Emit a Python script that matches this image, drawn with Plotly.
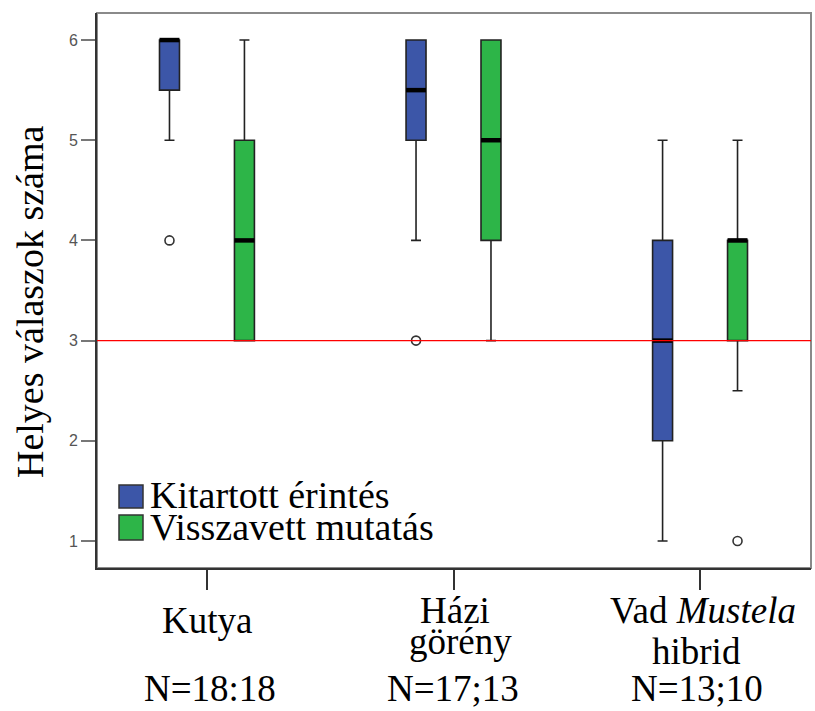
import plotly.graph_objects as go

# --- data -----------------------------------------------------------------
groups = ["Kutya", "Házi görény", "Vad Mustela hibrid"]
sample_sizes = ["N=18:18", "N=17;13", "N=13;10"]
series_names = ["Kitartott érintés", "Visszavett mutatás"]

# five-number summaries per group (Kutya, Házi görény, Vad Mustela hibrid)
touch_low = [5, 4, 1]
touch_q1 = [5.5, 5, 2]
touch_med = [6, 5.5, 3]
touch_q3 = [6, 6, 4]
touch_high = [6, 6, 5]
touch_outliers = [[4], [3], []]

point_low = [3, 3, 2.5]
point_q1 = [3, 4, 3]
point_med = [4, 5, 4]
point_q3 = [5, 6, 4]
point_high = [6, 6, 5]
point_outliers = [[], [], [1]]

chance_level = 3

# --- styling --------------------------------------------------------------
W, H = 815, 711
L, R, T, B = 97, 811, 13, 568          # plot area in pixels
BLUE = "#3C56A8"
GREEN = "#2DB548"
SERIF = "Liberation Serif, Times New Roman, serif"
SANS = "Liberation Sans, Arial, sans-serif"

OFFSET = 0.152
BOX_W = 0.081
X_RANGE = [-0.446, 2.450]
Y_RANGE = [0.73, 6.27]


def px_x(p):
    return (p - L) / (R - L)


def px_y(p):
    return (B - p) / (B - T)


fig = go.Figure()

series = [
    (series_names[0], BLUE, -OFFSET, touch_low, touch_q1, touch_med, touch_q3, touch_high, touch_outliers),
    (series_names[1], GREEN, OFFSET, point_low, point_q1, point_med, point_q3, point_high, point_outliers),
]

for name, color, off, lo, q1, med, q3, hi, outs in series:
    xs = [i + off for i in range(len(groups))]
    fig.add_trace(go.Box(
        name=name, x=xs, lowerfence=lo, q1=q1, median=med, q3=q3, upperfence=hi,
        width=BOX_W, whiskerwidth=0.5, fillcolor=color,
        line=dict(color="#222222", width=1.6),
        boxpoints=False, hoverinfo="skip", showlegend=False,
    ))
    # thick median bars
    mx, my = [], []
    for x, m in zip(xs, med):
        mx += [x - BOX_W / 2, x + BOX_W / 2, None]
        my += [m, m, None]
    fig.add_trace(go.Scatter(x=mx, y=my, mode="lines",
                             line=dict(color="black", width=4.5),
                             hoverinfo="skip", showlegend=False))
    # outliers
    ox, oy = [], []
    for x, vals in zip(xs, outs):
        for v in vals:
            ox.append(x)
            oy.append(v)
    fig.add_trace(go.Scatter(x=ox, y=oy, mode="markers",
                             marker=dict(symbol="circle-open", size=9,
                                         line=dict(color="#333333", width=1.6),
                                         color="#333333"),
                             hoverinfo="skip", showlegend=False))

shapes = [
    # frame
    dict(type="rect", xref="paper", yref="paper", x0=0, x1=1, y0=0, y1=1,
         line=dict(color="#8a8a8a", width=2), layer="below"),
    # chance level
    dict(type="line", xref="paper", yref="y", x0=0, x1=1,
         y0=chance_level, y1=chance_level, line=dict(color="red", width=1.2)),
]

# legend swatches
for (px0, py0, px1, py1), color in [((119, 485, 143, 508), BLUE), ((119, 515, 143, 540), GREEN)]:
    shapes.append(dict(type="rect", xref="paper", yref="paper",
                       x0=px_x(px0), x1=px_x(px1), y0=px_y(py1), y1=px_y(py0),
                       fillcolor=color, line=dict(color="#333333", width=1.5)))

annotations = []


def label(text, px, py, size=37, angle=0):
    annotations.append(dict(text=text, x=px_x(px), y=px_y(py), xref="paper", yref="paper",
                            xanchor="center", yanchor="middle", showarrow=False,
                            textangle=angle, font=dict(family=SERIF, size=size, color="black")))


def left_label(text, px, py, size=38):
    annotations.append(dict(text=text, x=px_x(px), y=px_y(py), xref="paper", yref="paper",
                            xanchor="left", yanchor="middle", showarrow=False,
                            font=dict(family=SERIF, size=size, color="black")))


left_label(series_names[0], 148, 495)
left_label(series_names[1], 148, 527)

# category labels
label(groups[0], 207, 620)
label("Házi", 455, 610)
label("görény", 460, 641)
label("Vad <i>Mustela</i>", 703, 610)
label("hibrid", 696, 651)
for sx, txt in zip([210, 453, 697], sample_sizes):
    label(txt, sx, 688)

# y-axis title
label("Helyes válaszok száma", 30, 302, size=38, angle=-90)

fig.update_layout(
    width=W, height=H,
    margin=dict(l=L, r=W - R, t=T, b=H - B, pad=0),
    paper_bgcolor="white", plot_bgcolor="white",
    shapes=shapes, annotations=annotations, showlegend=False,
    xaxis=dict(range=X_RANGE, tickvals=[0, 1, 2], showticklabels=False,
               ticks="outside", ticklen=20, tickwidth=2, tickcolor="#333333",
               showline=True, linecolor="#333333", linewidth=2,
               showgrid=False, zeroline=False, fixedrange=True),
    yaxis=dict(range=Y_RANGE, tickvals=[1, 2, 3, 4, 5, 6],
               ticks="outside", ticklen=14, tickwidth=1.5, tickcolor="#777777",
               tickfont=dict(family=SANS, size=16, color="#555555"),
               showline=True, linecolor="#333333", linewidth=2,
               showgrid=False, zeroline=False, fixedrange=True),
)

fig.write_html("out.html")
